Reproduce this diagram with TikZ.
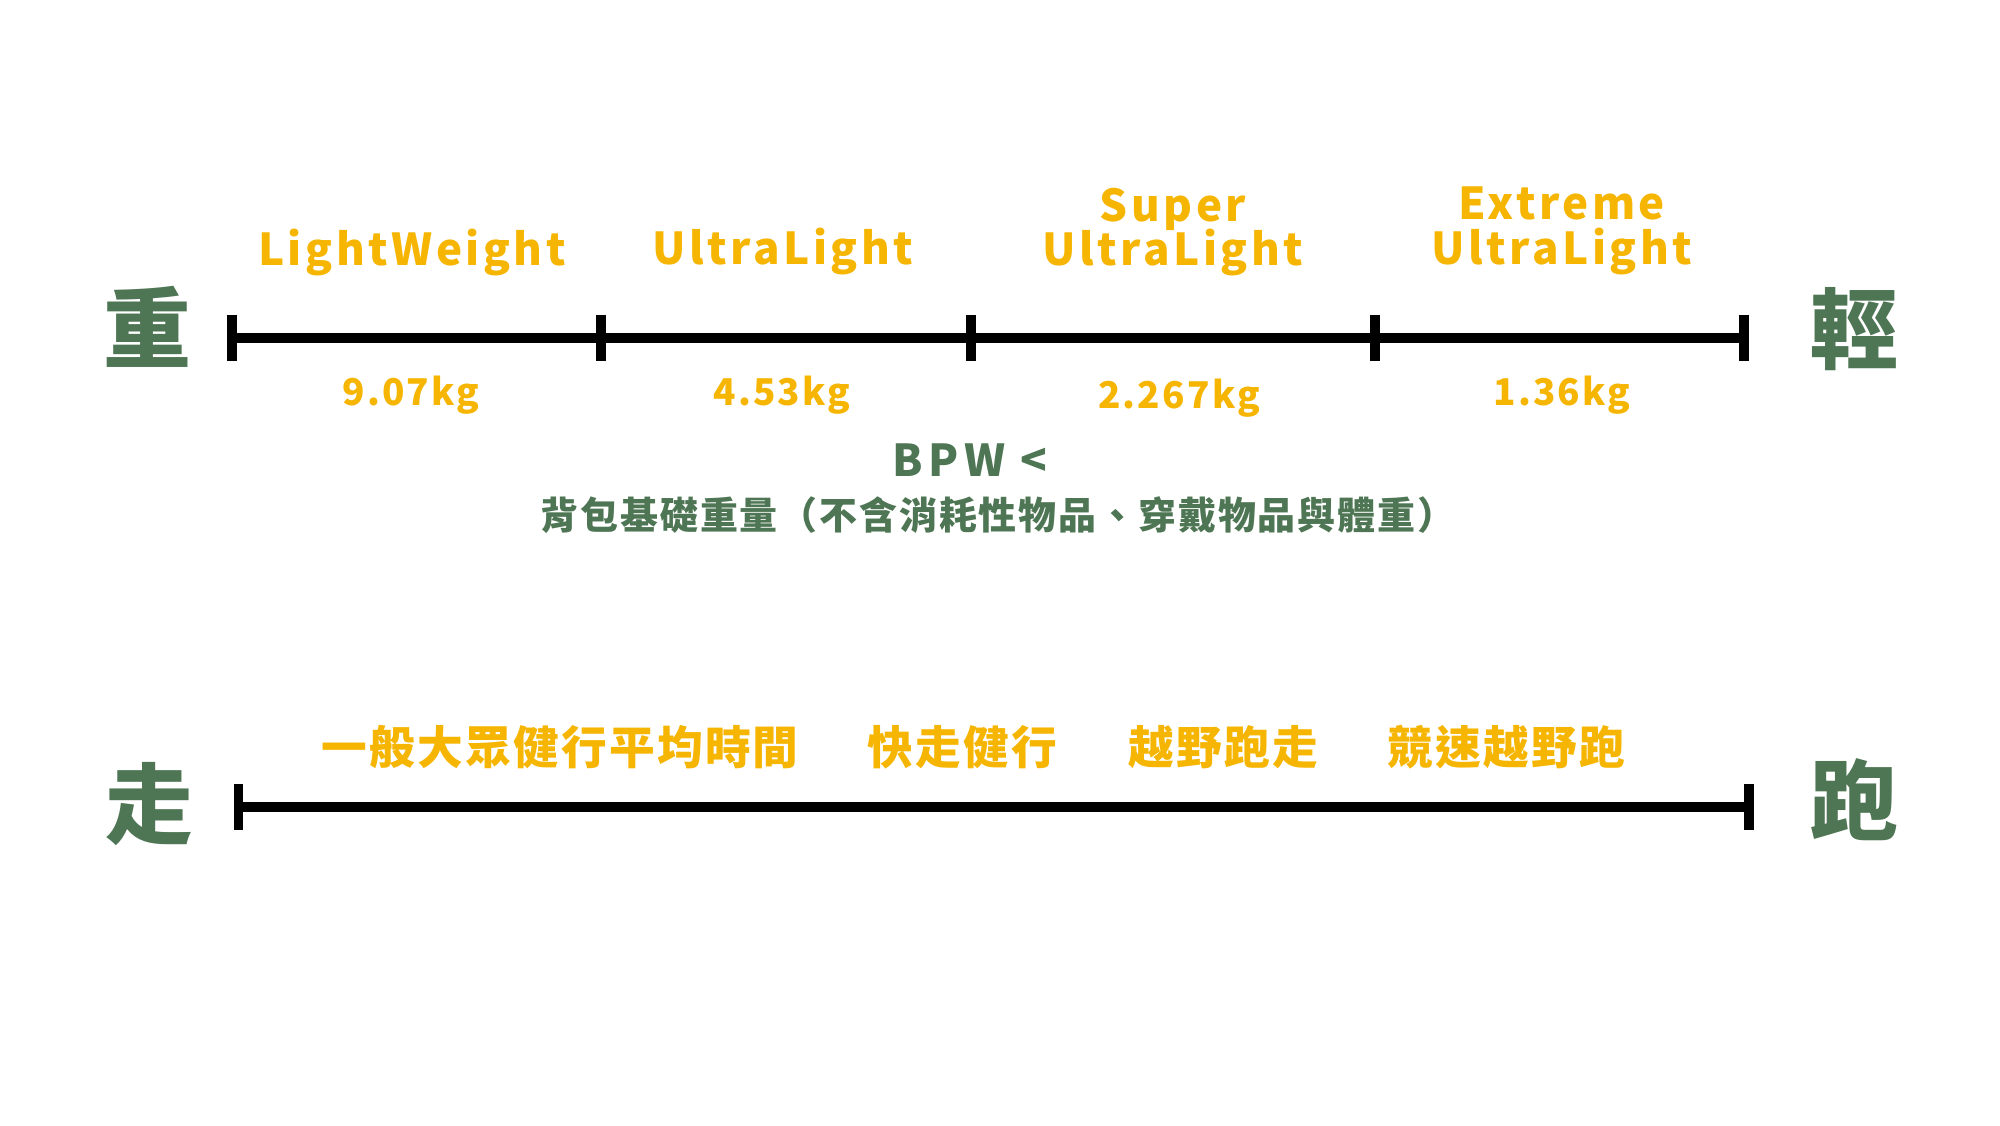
\documentclass[tikz,border=0pt]{standalone}
\usepackage{fontspec}
\setmainfont{Noto Sans CJK TC}
\newfontfamily\latinfont[LetterSpace=8]{Noto Sans CJK TC}
\newfontfamily\kgfont[LetterSpace=6]{Noto Sans CJK TC}
\newfontfamily\bpwfont[LetterSpace=12]{Noto Sans CJK TC}
\newfontfamily\hanfont[LetterSpace=5]{Noto Sans CJK TC}
\setlength{\lineskiplimit}{-10pt}
\definecolor{mustard}{RGB}{246,181,0}
\definecolor{moss}{RGB}{78,118,84}
\tikzset{
  big/.style={text=moss, inner sep=0, font=\hanfont\bfseries\fontsize{25}{25}\selectfont},
  tag/.style={text=mustard, inner sep=0, align=center, font=\latinfont\bfseries\fontsize{12.5}{12.6}\selectfont},
  kg/.style={text=mustard, inner sep=0, font=\kgfont\bfseries\fontsize{10.5}{11}\selectfont},
  bpw/.style={text=moss, inner sep=0, font=\bpwfont\bfseries\fontsize{12.5}{12.6}\selectfont},
  note/.style={text=moss, inner sep=0, font=\hanfont\bfseries\fontsize{10.8}{10.8}\selectfont},
  pace/.style={text=mustard, inner sep=0, font=\hanfont\bfseries\fontsize{13}{13}\selectfont},
  bar/.style={line width=2.6pt}
}
\begin{document}
\begin{tikzpicture}
    \fill[white] (0,0) rectangle (20,11.25);
    \useasboundingbox (0,0) rectangle (20,11.25);

    % weight scale
    \coordinate (w0) at (2.32, 7.87);
    \coordinate (w1) at (6.01, 7.87);
    \coordinate (w2) at (9.71, 7.87);
    \coordinate (w3) at (13.75, 7.87);
    \coordinate (w4) at (17.44, 7.87);
    \draw[bar] (w0) -- (w4);
    \foreach \t in {w0,w1,w2,w3,w4}
        \draw[bar] (\t) ++(0,0.23) -- ++(0,-0.46);

    \node[big] (heavy) at (1.47, 7.98) {重};
    \node[big] (light) at (18.54, 7.96) {輕};

    \node[tag] (lw) at (4.12, 8.73) {LightWeight};
    \node[tag] (ul) at (7.83, 8.74) {UltraLight};
    \node[tag] (sul) at (11.73, 8.93) {Super\\UltraLight};
    \node[tag] (xul) at (15.62, 8.94) {Extreme\\UltraLight};

    \node[kg] (kg1) at (4.11, 7.30) {9.07kg};
    \node[kg] (kg2) at (7.82, 7.30) {4.53kg};
    \node[kg] (kg3) at (11.79, 7.27) {2.267kg};
    \node[kg] (kg4) at (15.62, 7.30) {1.36kg};

    \node[bpw] (bpw) at (9.70, 6.65) {BPW <};
    \node[note] (base) at (9.98, 6.10) {背包基礎重量（不含消耗性物品、穿戴物品與體重）};

    % pace scale
    \coordinate (p0) at (2.385, 3.18);
    \coordinate (p1) at (17.49, 3.18);
    \draw[bar] (p0) -- (p1);
    \foreach \t in {p0,p1}
        \draw[bar] (\t) ++(0,0.23) -- ++(0,-0.46);

    \node[big] (walk) at (1.49, 3.21) {走};
    \node[big] (run) at (18.54, 3.25) {跑};

    \node[pace] (hike) at (5.60, 3.78) {一般大眾健行平均時間};
    \node[pace] (fast) at (9.62, 3.78) {快走健行};
    \node[pace] (trail) at (12.23, 3.78) {越野跑走};
    \node[pace] (race) at (15.06, 3.78) {競速越野跑};
\end{tikzpicture}
\end{document}
